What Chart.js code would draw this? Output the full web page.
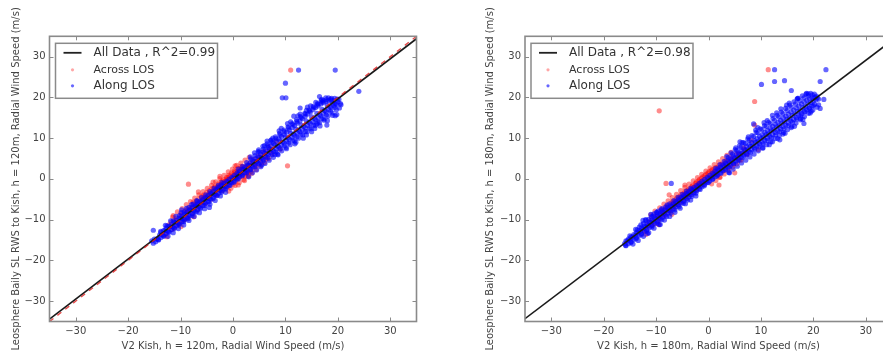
<!DOCTYPE html>
<html>
<head>
<meta charset="utf-8">
<script src="https://cdn.jsdelivr.net/npm/chart.js@4/dist/chart.umd.min.js"></script>
<style>
html,body{margin:0;padding:0;background:#fff;overflow:hidden;width:883px;height:354px;}
.wrap{position:absolute;top:0;}
</style>
</head>
<body>
<div class="wrap" style="left:0px;width:441px;height:354px;"><canvas id="c1" width="441" height="354"></canvas></div>
<div class="wrap" style="left:441px;width:460px;height:354px;"><canvas id="c2" width="460" height="354"></canvas></div>
<script>
// ---------- data ----------
const axisTicks = [-30, -20, -10, 0, 10, 20, 30];
const axisMin = -35, axisMax = 35;

const xLabel120 = 'V2 Kish, h = 120m, Radial Wind Speed (m/s)';
const yLabel120 = 'Leosphere Baily SL RWS to Kish, h = 120m, Radial Wind Speed (m/s)';
const xLabel180 = 'V2 Kish, h = 180m, Radial Wind Speed (m/s)';
const yLabel180 = 'Leosphere Baily SL RWS to Kish, h = 180m, Radial Wind Speed (m/s)';

const legendAll120 = 'All Data , R^2=0.99';
const legendAll180 = 'All Data , R^2=0.98';
const legendAcross = 'Across LOS';
const legendAlong = 'Along LOS';

// fitted "All Data" lines (x, y endpoints)
const fitLine120 = [[-35, -34.4], [35, 34.4]];
const oneToOne120 = [[-35, -35], [35, 35]];
const fitLine180 = [[-35, -34.3], [35, 34.0]];

// h = 120 m, Along LOS (blue)
const along120 = [
[-15.5,-15.2],[-15,-14.8],[-14.5,-14.7],[-14,-13.8],[-13.5,-13.7],[-13,-12.7],[-12.5,-12.8],[-12,-11.7],[-11.5,-11.8],[-11,-10.7],[-10.5,-10.9],[-10,-9.7],[-9.5,-9.8],[-9,-8.6],[-8.5,-8.9],[-8,-7.7],[-7.5,-7.8],[-7,-6.6],[-6.5,-6.8],[-6,-5.7],[-5.5,-5.8],[-5,-4.7],[-4.5,-4.8],[-4,-3.7],[-3.5,-3.8],[-3,-2.7],[-2.5,-2.8],[-2,-1.7],[-1.5,-1.8],[-1,-0.7],[-0.5,-0.8],[0,0.2],[0.5,0.3],[1,1.2],[1.5,1.3],[2,2.3],[2.5,2.3],[3,3.3],[3.5,3.3],[4,4.3],[4.5,4.3],[5,5.3],[5.5,5.2],[6,6.3],[6.5,6.2],[7,7.3],[7.5,7.2],[8,8.3],[8.5,8.1],[9,9.3],[9.5,9.1],[10,10.3],[10.5,10.1],[11,11.2],[11.5,11.0],[12,12.2],[12.5,12.0],[13,13.2],[13.5,12.9],[14,14.2],[14.5,13.9],[15,15.2],[15.5,14.9],[16,16.1],[16.5,15.8],[17,17.1],[17.5,16.8],[18,18.0],[18.5,17.7],[19,18.6],[19.5,18.4],[20,18.9],
[-13.8,-12.9],[-12.6,-11.5],[-11.4,-10.3],[-10.2,-9.0],[-9.3,-8.1],[-8.4,-7.0],[-7.6,-6.2],[-6.8,-5.5],[-6.0,-4.6],[-5.2,-3.9],[-4.4,-3.1],[-3.6,-2.3],[-2.8,-1.6],[-2.1,-0.9],[1.0,2.4],[1.8,3.1],[2.6,4.0],[3.4,4.9],[4.2,5.7],[5.0,6.6],[5.8,7.3],[6.6,8.2],[7.4,9.0],[8.2,9.9],[9.0,10.8],[9.8,11.6],[10.6,12.5],[11.4,13.3],[12.2,14.1],[13.0,15.0],[13.8,15.9],[14.6,16.7],[15.4,17.5],[16.2,18.3],[17.0,18.9],[17.8,19.4],[18.6,19.6],[19.4,19.8],[20.2,19.5],
[-15.2,-15.8],[-14.2,-15.0],[-13.2,-14.1],[-12.2,-13.1],[-11.2,-12.2],[-10.3,-11.3],[-9.4,-10.5],[-8.6,-9.8],[-7.8,-9.0],[-7.0,-8.1],[-6.2,-7.3],[-5.4,-6.5],[-4.6,-5.7],[-3.8,-4.9],[-3.0,-4.1],[-2.2,-3.3],[-1.4,-2.5],[-0.6,-1.6],[0.2,-0.8],[1.0,0.0],[1.8,0.8],[2.6,1.5],[3.4,2.3],[4.2,3.0],[5.0,3.7],[5.8,4.5],[6.6,5.2],[7.4,5.9],[8.2,6.6],[9.0,7.4],[9.8,8.1],[10.6,8.8],[11.4,9.5],[12.2,10.3],[13.0,11.0],[13.8,11.7],[14.6,12.5],[15.4,13.2],[16.2,14.0],[17.0,14.8],[17.8,15.7],[18.6,16.6],[19.4,17.5],
[-13.75,-13.1],[-13.25,-12.7],[-12.75,-12.1],[-12.25,-11.6],[-11.75,-11.2],[-11.25,-10.6],[-10.75,-10.2],[-10.25,-9.6],[-9.75,-9.2],[-9.25,-8.6],[-8.75,-8.1],[-8.25,-7.6],[-7.75,-7.1],[-7.25,-6.6],[-6.75,-6.1],[-6.25,-5.6],[-5.75,-5.1],[-5.25,-4.6],[-4.75,-4.1],[-4.25,-3.6],[-3.75,-3.1],[-3.25,-2.6],[-2.75,-2.1],[-2.25,-1.6],[-1.75,-1.1],[-1.25,-0.6],[-0.75,-0.1],[-0.25,0.4],[0.25,0.9],[0.75,1.4],[1.25,1.9],[1.75,2.4],[2.25,2.9],[2.75,3.4],[3.25,3.9],[3.75,4.5],[4.25,5.0],[4.75,5.5],[5.25,6.1],[5.75,6.6],[6.25,7.1],[6.75,7.7],[7.25,8.2],[7.75,8.7],[8.25,9.3],[8.75,9.8],[9.25,10.4],[9.75,10.9],[10.25,11.5],[10.75,12.0],[11.25,12.6],[11.75,13.1],[12.25,13.7],[12.75,14.2],[13.25,14.8],[13.75,15.3],[14.25,15.9],[14.75,16.4],[15.25,17.0],[15.75,17.5],[16.25,17.9],[16.75,18.4],[17.25,18.7],[17.75,19.0],[18.25,19.2],[18.75,19.3],[19.25,19.2],
[-14.75,-15.4],[-14.25,-14.9],[-13.75,-14.4],[-13.25,-13.9],[-12.75,-13.4],[-12.25,-12.9],[-11.75,-12.4],[-11.25,-11.9],[-10.75,-11.5],[-10.25,-11.0],[-9.75,-10.5],[-9.25,-10.0],[-8.75,-9.5],[-8.25,-9.0],[-7.75,-8.5],[-7.25,-8.0],[-6.75,-7.5],[-6.25,-7.0],[-5.75,-6.5],[-5.25,-6.0],[-4.75,-5.5],[-4.25,-5.0],[-3.75,-4.5],[-3.25,-4.0],[-2.75,-3.5],[-2.25,-3.0],[-1.75,-2.5],[-1.25,-2.0],[-0.75,-1.5],[-0.25,-1.0],[0.25,-0.5],[0.75,0.0],[1.25,0.5],[1.75,1.0],[2.25,1.5],[2.75,1.9],[3.25,2.4],[3.75,2.9],[4.25,3.4],[4.75,3.9],[5.25,4.4],[5.75,4.9],[6.25,5.4],[6.75,5.9],[7.25,6.4],[7.75,6.8],[8.25,7.3],[8.75,7.8],[9.25,8.3],[9.75,8.8],[10.25,9.2],[10.75,9.7],[11.25,10.2],[11.75,10.7],[12.25,11.2],[12.75,11.6],[13.25,12.1],[13.75,12.6],[14.25,13.1],[14.75,13.6],[15.25,14.0],[15.75,14.5],[16.25,15.0],[16.75,15.5],[17.25,16.0],[17.75,16.5],[18.25,17.0],[18.75,17.5],[19.25,18.0],[19.75,18.3],
[3.3,5.4],[4.1,6.4],[4.9,7.1],[5.7,8.0],[6.5,8.6],[7.3,9.6],[8.1,10.3],[8.9,11.2],[9.7,12.0],[10.5,12.8],[11.3,13.6],[12.1,14.5],[12.9,15.3],[13.7,16.1],[14.5,16.9],[15.3,17.8],[16.1,18.5],[16.9,19.5],[17.7,19.9],
[3.7,1.5],[4.5,2.2],[5.3,3.0],[6.1,3.8],[6.9,4.6],[7.7,5.3],[8.5,6.1],[9.3,6.9],[10.1,7.7],[10.9,8.4],[11.7,9.3],[12.5,10.0],[13.3,10.8],[14.1,11.6],[14.9,12.3],[15.7,13.1],[16.5,13.8],[17.3,14.7],[18.1,15.4],[18.9,16.2],[19.7,17.0],
[-12.9,-11.4],[-11.9,-10.3],[-10.9,-9.2],[-9.9,-8.3],[-8.9,-7.2],[-7.9,-6.3],[-6.9,-5.3],[-12.4,-14.1],[-11.4,-13.2],[-10.4,-12.2],[-9.4,-11.3],[-8.4,-10.2],[-7.4,-9.2],[-6.4,-8.3],[-5.4,-7.3],[-4.4,-6.2],[-3.4,-5.3],[-2.4,-4.2],[-1.4,-3.3],
[9.2,12.4],[11.0,14.0],[12.8,15.9],[14.8,17.9],[16.8,19.2],[10.2,7.4],[12.0,9.0],[14.0,10.8],[15.6,12.4],[17.4,14.4],[19.0,15.6],[18.8,19.8],[19.9,19.6],[20.3,17.4],[17.9,13.2],[8.6,5.9],[7.2,9.4],[6.0,8.2],[4.8,6.7],[11.6,15.4],
[8.8,11.8],[10.4,13.6],[12.4,15.5],[14.2,17.6],[15.8,18.8],[17.2,19.3],[18.2,19.9],[11.8,8.6],[13.4,10.0],[15.0,11.6],[16.6,13.0],[18.0,14.3],[19.8,15.8],[20.6,18.2],[16.0,13.5],[19.5,15.5],[20.5,18.5],[12.5,26.7],[19.5,26.7],[10.0,23.5],[9.4,19.9],[10.1,19.9],[24.0,21.5],[-15.2,-12.6],[8.0,6.0],[5.5,3.4],[-4.5,-7.0],[3.0,0.5],[-9.8,-7.6],[6.5,9.3],[12.8,17.4],[16.5,20.2],[14.0,16.8],[7.6,10.0]
];

// h = 120 m, Across LOS (red)
const across120 = [
[-13.0,-13.6],[-12.2,-11.3],[-11.6,-12.4],[-11.0,-10.1],[-10.5,-11.2],[-10.0,-8.9],[-9.5,-10.3],[-9.0,-7.8],[-8.6,-9.6],[-8.5,-1.3],[-8.2,-6.9],[-7.8,-8.5],[-7.4,-6.1],[-7.0,-5.4],[-6.8,-7.7],[-6.5,-4.9],[-6.2,-6.5],[-6.0,-4.3],[-5.6,-3.9],[-5.3,-6.1],[-5.0,-3.3],[-4.8,-4.6],[-4.5,-2.9],[-4.2,-5.0],[-4.0,-2.4],[-3.7,-3.0],[-3.4,-1.8],[-3.1,-4.0],[-2.8,-1.2],[-2.6,-2.3],[-2.3,-0.8],[-2.0,-2.9],[-1.8,-0.2],[-1.5,-1.1],[-1.2,0.4],[-1.0,-1.9],[-0.8,0.9],[-0.5,-0.2],[-0.3,1.4],[0.0,-1.3],[0.1,0.8],[0.3,2.0],[0.5,-0.5],[0.7,1.3],[0.9,2.6],[1.1,0.2],[1.3,1.9],[1.5,3.1],[1.7,0.6],[1.9,2.4],[2.2,-0.4],[2.4,1.4],[2.6,3.4],[2.9,2.0],[3.2,4.0],[3.5,2.5],[3.9,4.8],[4.3,3.1],[4.8,5.6],[5.3,4.0],[5.8,6.7],[6.3,4.9],[6.9,8.0],[7.5,6.1],[8.2,9.2],[9.0,7.3],[10.4,3.2],[11.0,26.7],[-0.8,-3.0],[1.0,-1.5],[-6.6,-3.2],[-2.5,0.6],[0.4,3.2],[3.0,0.8],[-11.5,-9.4],[-3.8,-0.8],
[-11.8,-10.6],[-11.2,-12.0],[-10.8,-9.6],[-10.2,-10.9],[-9.8,-8.5],[-9.2,-9.9],[-8.8,-7.5],[-8.0,-7.3],[-7.6,-5.7],[-7.2,-7.0],[-6.4,-5.8],[-5.8,-5.2],[-5.5,-4.4],[-5.1,-4.9],[-4.6,-3.6],[-4.4,-4.3],[-3.9,-3.3],[-3.6,-2.1],[-3.3,-3.6],[-3.0,-2.2],[-2.7,-1.9],[-2.4,-1.4],[-2.1,-0.5],[-1.9,-2.3],[-1.6,-0.7],[-1.3,-0.1],[-1.1,-1.4],[-0.9,0.3],[-0.6,0.6],[-0.4,-0.8],[-0.2,0.2],[0.0,1.2],[0.2,0.1],[0.4,1.6],[0.6,0.6],[0.8,2.0],[1.0,0.9],[1.2,2.4],[1.4,1.2],[1.6,2.7],[1.8,1.6],[2.0,3.0],[2.3,0.7],[2.5,2.9],[2.8,1.5],[3.1,3.3],[3.4,1.8],[3.7,3.9],[4.1,3.6],[4.5,4.3],[5.0,4.8],[5.5,5.6],[6.0,5.6],[6.6,6.8],[7.2,7.0],
[-11.4,-9.0],[-10.6,-8.1],[-9.7,-7.3],[-8.9,-6.3],[-8.1,-5.6],[-7.3,-4.7],[-6.5,-3.9],[-5.7,-3.1],[-4.9,-2.3],[-4.1,-1.6],[-3.3,-0.7],[-2.5,0.1],[-1.7,0.9],[-0.9,1.7],[-0.1,2.4],[0.7,3.3],[1.5,3.9],[2.3,4.6],[3.1,5.3],
[-12.6,-14.2],[-9.9,-11.7],[-7.5,-9.3],[-0.4,-2.3],[0.4,-1.6],[1.2,-0.9],[2.0,-0.2],[2.8,0.6],[3.6,1.4],[4.4,2.3],[5.2,3.2],[6.0,4.0],[6.8,5.0],
[-8.9,-8.2],[-8.4,-7.7],[-7.9,-6.9],[-7.1,-6.4],[-6.7,-5.8],[-6.1,-5.3],[-5.7,-4.8],[-5.2,-4.2],[-4.7,-4.0],[-4.3,-3.4],[-3.8,-2.8],[-3.2,-2.5],[-2.9,-1.8],[-2.2,-1.3],[-1.7,-1.0],[-1.2,-0.3]
];

// h = 180 m, Along LOS (blue)
const along180 = [
[-16,-15.9],[-15.5,-15.2],[-15,-14.9],[-14.5,-14.3],[-14,-13.9],[-13.5,-13.3],[-13,-12.9],[-12.5,-12.3],[-12,-11.8],[-11.5,-11.4],[-11,-10.8],[-10.5,-10.4],[-10,-9.8],[-9.5,-9.4],[-9,-8.8],[-8.5,-8.4],[-8,-7.8],[-7.5,-7.4],[-7,-6.8],[-6.5,-6.4],[-6,-5.9],[-5.5,-5.4],[-5,-4.9],[-4.5,-4.4],[-4,-3.9],[-3.5,-3.4],[-3,-2.9],[-2.5,-2.5],[-2,-1.9],[-1.5,-1.5],[-1,-0.9],[-0.5,-0.6],[0,0.1],[0.5,0.4],[1,1.1],[1.5,1.4],[2,2.1],[2.5,2.4],[3,3.1],[3.5,3.4],[4,4.1],[4.5,4.4],[5,5.1],[5.5,5.3],[6,6.0],[6.5,6.3],[7,7.0],[7.5,7.2],[8,8.0],[8.5,8.2],[9,9.0],[9.5,9.2],[10,9.9],[10.5,10.2],[11,10.9],[11.5,11.1],[12,11.8],[12.5,12.1],[13,12.8],[13.5,13.0],[14,13.7],[14.5,14.0],[15,14.7],[15.5,14.9],[16,15.6],[16.5,15.9],[17,16.6],[17.5,16.8],[18,17.5],[18.5,17.8],[19,18.4],[19.5,18.7],[20,19.2],[20.5,19.4],[21,19.6],
[-15.0,-14.0],[-13.6,-12.5],[-12.4,-11.0],[-11.4,-9.9],[-10.6,-9.1],[-9.8,-8.3],[-9.0,-7.6],[-8.2,-6.9],[-7.4,-6.1],[-6.6,-5.3],[-5.8,-4.5],[-5.0,-3.8],[-4.2,-3.0],[-3.4,-2.3],[1.4,2.6],[2.2,3.5],[3.0,4.3],[3.8,5.2],[4.6,6.1],[5.4,7.0],[6.2,7.8],[7.0,8.7],[7.8,9.5],[8.6,10.4],[9.4,11.3],[10.2,12.1],[11.0,12.9],[11.8,13.6],[12.6,14.4],[13.4,15.2],[14.2,16.0],[15.0,16.8],[15.8,17.6],[16.6,18.4],[17.4,19.2],[18.2,19.9],[19.0,20.4],[19.8,20.6],[20.6,20.3],
[-15.8,-16.3],[-14.8,-15.6],[-13.8,-14.7],[-12.8,-13.7],[-11.8,-12.8],[-10.8,-11.8],[-9.8,-10.9],[-8.9,-10.0],[-8.0,-9.2],[-7.2,-8.4],[-6.4,-7.6],[-5.6,-6.8],[-4.8,-6.0],[-4.0,-5.2],[-3.2,-4.3],[-2.4,-3.5],[-1.6,-2.6],[-0.8,-1.7],[0.0,-0.9],[0.8,-0.1],[1.6,0.7],[2.4,1.4],[3.2,2.2],[4.0,2.9],[4.8,3.7],[5.6,4.4],[6.4,5.1],[7.2,5.8],[8.0,6.5],[8.8,7.2],[9.6,7.9],[10.4,8.6],[11.2,9.4],[12.0,10.1],[12.8,10.8],[13.6,11.6],[14.4,12.3],[15.2,13.1],[16.0,13.9],[16.8,14.7],[17.6,15.6],[18.4,16.5],[19.2,17.3],[20.0,18.0],
[-15.75,-15.2],[-15.25,-14.7],[-14.75,-14.2],[-14.25,-13.7],[-13.75,-13.1],[-13.25,-12.6],[-12.75,-12.1],[-12.25,-11.6],[-11.75,-11.1],[-11.25,-10.6],[-10.75,-10.1],[-10.25,-9.6],[-9.75,-9.1],[-9.25,-8.6],[-8.75,-8.1],[-8.25,-7.6],[-7.75,-7.1],[-7.25,-6.6],[-6.75,-6.1],[-6.25,-5.6],[-5.75,-5.1],[-5.25,-4.6],[-4.75,-4.1],[-4.25,-3.6],[-3.75,-3.1],[-3.25,-2.6],[-2.75,-2.1],[-2.25,-1.6],[-1.75,-1.1],[-1.25,-0.6],[-0.75,-0.1],[-0.25,0.4],[0.25,0.9],[0.75,1.4],[1.25,1.9],[1.75,2.4],[2.25,2.9],[2.75,3.4],[3.25,3.9],[3.75,4.4],[4.25,4.9],[4.75,5.4],[5.25,5.9],[5.75,6.4],[6.25,6.9],[6.75,7.4],[7.25,7.9],[7.75,8.4],[8.25,8.9],[8.75,9.4],[9.25,9.9],[9.75,10.4],[10.25,10.9],[10.75,11.4],[11.25,11.9],[11.75,12.4],[12.25,12.9],[12.75,13.4],[13.25,13.9],[13.75,14.4],[14.25,14.9],[14.75,15.4],[15.25,15.9],[15.75,16.4],[16.25,16.9],[16.75,17.4],[17.25,17.9],[17.75,18.4],[18.25,18.9],[18.75,19.3],[19.25,19.7],[19.75,19.9],[20.25,20.0],[20.75,19.9],
[-15.75,-16.4],[-15.25,-15.9],[-14.75,-15.4],[-14.25,-14.9],[-13.75,-14.4],[-13.25,-13.9],[-12.75,-13.4],[-12.25,-12.9],[-11.75,-12.4],[-11.25,-11.9],[-10.75,-11.4],[-10.25,-10.9],[-9.75,-10.4],[-9.25,-9.9],[-8.75,-9.4],[-8.25,-8.9],[-7.75,-8.4],[-7.25,-7.9],[-6.75,-7.4],[-6.25,-6.9],[-5.75,-6.4],[-5.25,-5.9],[-4.75,-5.4],[-4.25,-4.9],[-3.75,-4.4],[-3.25,-3.9],[-2.75,-3.4],[-2.25,-2.9],[-1.75,-2.4],[-1.25,-1.9],[-0.75,-1.4],[-0.25,-0.9],[0.25,-0.5],[0.75,0.0],[1.25,0.5],[1.75,1.0],[2.25,1.5],[2.75,2.0],[3.25,2.4],[3.75,2.9],[4.25,3.4],[4.75,3.9],[5.25,4.3],[5.75,4.8],[6.25,5.3],[6.75,5.8],[7.25,6.2],[7.75,6.7],[8.25,7.2],[8.75,7.6],[9.25,8.1],[9.75,8.6],[10.25,9.0],[10.75,9.5],[11.25,10.0],[11.75,10.4],[12.25,10.9],[12.75,11.4],[13.25,11.8],[13.75,12.3],[14.25,12.8],[14.75,13.2],[15.25,13.7],[15.75,14.2],[16.25,14.6],[16.75,15.1],[17.25,15.6],[17.75,16.0],[18.25,16.5],[18.75,17.0],[19.25,17.4],[19.75,17.9],[20.25,18.3],
[3.5,5.5],[4.3,6.4],[5.1,7.2],[5.9,8.1],[6.7,8.9],[7.5,9.8],[8.3,10.6],[9.1,11.4],[9.9,12.3],[10.7,13.1],[11.5,13.9],[12.3,14.8],[13.1,15.6],[13.9,16.4],[14.7,17.3],[15.5,18.1],[16.3,18.9],[17.1,19.8],[17.9,20.4],[18.7,21.0],[19.5,21.0],
[3.9,1.6],[4.7,2.4],[5.5,3.1],[6.3,3.9],[7.1,4.6],[7.9,5.4],[8.7,6.1],[9.5,6.9],[10.3,7.6],[11.1,8.4],[11.9,9.1],[12.7,9.9],[13.5,10.6],[14.3,11.4],[15.1,12.1],[15.9,12.9],[16.7,13.7],[17.5,14.5],[18.3,15.3],[19.1,16.1],[19.9,16.9],[20.7,17.6],
[-13.9,-12.4],[-12.9,-11.3],[-11.9,-10.2],[-10.9,-9.3],[-9.9,-8.2],[-8.9,-7.3],[-7.9,-6.4],[-14.4,-16.0],[-13.4,-15.1],[-12.4,-14.1],[-11.4,-13.2],[-10.4,-12.1],[-9.4,-11.2],[-8.4,-10.1],[-7.4,-9.2],[-6.4,-8.2],[-5.4,-7.2],[-4.4,-6.1],[-3.4,-5.2],[-2.4,-4.2],
[9.4,12.6],[11.2,14.3],[13.0,16.2],[14.9,18.1],[16.9,19.6],[10.4,7.6],[12.2,9.1],[14.2,11.0],[15.8,12.6],[17.6,14.8],[19.4,16.2],[19.0,20.9],[20.2,20.8],[21.0,18.2],[18.2,13.6],[-12.0,-10.0],[-10.4,-8.6],[-13.2,-11.8],[-9.2,-11.2],[-11.6,-13.4],[6.4,8.9],[7.6,10.3],[5.2,7.6],
[9.0,12.0],[10.6,13.8],[12.2,15.6],[13.8,17.2],[15.4,18.6],[17.0,19.8],[18.6,20.8],[11.6,8.4],[13.2,9.9],[14.6,11.2],[16.4,12.9],[18.0,14.6],[19.6,16.6],[21.3,17.3],[22.0,19.5],[13.6,9.6],[12.6,26.8],[22.4,26.8],[14.5,24.1],[12.6,23.9],[10.1,23.2],[15.8,21.7],[21.3,23.9],[8.6,13.5],[-12.5,-10.2],[-11.0,-8.7],[-9.6,-7.9],[6.0,9.1],[4.0,1.5],[-7.1,-1.1]
];

// h = 180 m, Across LOS (red)
const across180 = [
[-12.2,-12.8],[-11.5,-10.6],[-10.8,-11.4],[-10.2,-9.2],[-9.6,-10.2],[-9.4,16.7],[-9.0,-8.0],[-8.5,-9.1],[-8.1,-1.1],[-8.0,-6.8],[-7.5,-7.9],[-7.0,-5.8],[-6.6,-7.2],[-6.2,-5.0],[-5.8,-6.3],[-5.4,-4.2],[-5.0,-5.6],[-4.6,-3.4],[-4.2,-4.7],[-3.9,-2.7],[-3.5,-3.9],[-3.2,-1.9],[-2.8,-3.2],[-2.5,-1.1],[-2.2,-2.6],[-1.9,-0.5],[-1.6,-1.8],[-1.3,0.2],[-1.0,-1.3],[-0.7,0.8],[-0.4,-0.5],[-0.1,1.4],[0.2,0.2],[0.5,2.0],[0.8,0.6],[1.1,2.4],[1.4,1.2],[1.8,2.9],[2.1,0.4],[2.5,3.6],[2.9,2.0],[3.3,4.4],[3.8,2.7],[4.3,5.3],[4.8,3.6],[5.4,6.3],[6.0,4.7],[6.7,7.6],[7.4,6.0],[8.2,9.4],[8.8,13.2],[8.8,19.0],[11.4,26.8],[2.0,-1.5],[-4.5,-1.5],[5.0,1.5],[-7.5,-3.9],[9.5,7.2],
[-11.6,-11.6],[-10.9,-10.0],[-10.4,-11.0],[-9.8,-8.8],[-9.2,-9.6],[-8.7,-7.5],[-8.3,-8.5],[-7.7,-6.4],[-7.3,-7.5],[-6.8,-5.5],[-6.4,-6.4],[-6.0,-4.6],[-5.6,-5.4],[-5.2,-3.8],[-4.8,-4.5],[-4.4,-3.0],[-4.0,-3.8],[-3.7,-2.4],[-3.3,-3.0],[-3.0,-1.6],[-2.7,-2.3],[-2.3,-0.8],[-2.0,-1.5],[-1.7,-0.1],[-1.4,-0.9],[-1.1,0.5],[-0.8,-0.2],[-0.5,1.1],[-0.2,0.5],[0.1,1.7],[0.4,1.0],[0.7,2.3],[1.0,1.5],[1.3,2.8],[1.6,2.0],[2.0,3.3],[2.3,2.4],[2.7,3.8],[3.1,3.1],[3.5,4.5],[4.0,3.8],[4.5,4.9],[5.1,5.1],[5.7,6.0],[6.3,6.3],[7.0,7.2],
[-11.0,-8.8],[-10.2,-7.9],[-9.3,-7.1],[-8.5,-6.2],[-7.7,-5.4],[-6.9,-4.6],[-6.1,-3.8],[-5.3,-2.9],[-4.5,-2.1],[-3.7,-1.3],[-2.9,-0.5],[-2.1,0.3],[-1.3,1.1],[-0.5,1.9],[0.3,2.7],[1.1,3.5],[1.9,4.2],[2.7,5.0],[3.5,5.8],[4.3,6.5],
[-11.9,-13.6],[-9.5,-11.2],[-7.0,-8.7],[0.6,-1.2],[1.4,-0.4],[2.2,0.4],[3.0,1.2],[3.8,2.0],[4.6,2.9],[5.4,3.7],[6.2,4.6],
[-8.9,-8.3],[-8.4,-7.6],[-7.9,-7.0],[-7.2,-6.5],[-6.7,-5.9],[-6.2,-5.6],[-5.7,-4.8],[-5.2,-4.5],[-4.7,-3.9],[-4.3,-3.6],[-3.8,-3.0],[-3.4,-2.6],[-2.9,-2.1],[-2.4,-1.7],[-1.9,-1.2],[-1.4,-0.6]
];

// ---------- drawing ----------
const FONT = "'DejaVu Sans', 'Liberation Sans', sans-serif";
const TEXT = '#444';
const FRAME = '#8a8a8a';

function pts(arr) { return arr.map(p => ({x: p[0], y: p[1]})); }

const framePlugin = {
  id: 'frameTicks',
  afterDatasetsDraw(chart, args, opts) {
    const ctx = chart.ctx, a = chart.chartArea;
    const xs = chart.scales.x, ys = chart.scales.y;
    ctx.save();
    ctx.strokeStyle = FRAME;
    ctx.lineWidth = 1;
    xs.ticks.forEach(t => {
      const px = Math.round(xs.getPixelForValue(t.value)) + 0.5;
      ctx.beginPath();
      ctx.moveTo(px, a.bottom); ctx.lineTo(px, a.bottom - 4);
      ctx.moveTo(px, a.top); ctx.lineTo(px, a.top + 4);
      ctx.stroke();
    });
    ys.ticks.forEach(t => {
      const py = Math.round(ys.getPixelForValue(t.value)) + 0.5;
      ctx.beginPath();
      ctx.moveTo(a.left, py); ctx.lineTo(a.left + 4, py);
      ctx.moveTo(a.right, py); ctx.lineTo(a.right - 4, py);
      ctx.stroke();
    });
    ctx.lineWidth = 1.6;
    ctx.strokeRect(a.left, a.top, a.right - a.left, a.bottom - a.top);

    // legend box
    const bx = a.left + 6, by = a.top + 7, bw = 162, bh = 55;
    ctx.fillStyle = '#fff';
    ctx.fillRect(bx, by, bw, bh);
    ctx.lineWidth = 1.5;
    ctx.strokeStyle = FRAME;
    ctx.strokeRect(bx, by, bw, bh);
    ctx.strokeStyle = '#222';
    ctx.lineWidth = 1.8;
    ctx.beginPath();
    ctx.moveTo(bx + 8, by + 9.5); ctx.lineTo(bx + 26, by + 9.5);
    ctx.stroke();
    ctx.fillStyle = 'rgba(255,0,0,0.35)';
    ctx.beginPath(); ctx.arc(bx + 17, by + 26.5, 1.6, 0, Math.PI * 2); ctx.fill();
    ctx.fillStyle = 'rgba(0,0,255,0.6)';
    ctx.beginPath(); ctx.arc(bx + 17, by + 42.5, 1.6, 0, Math.PI * 2); ctx.fill();
    ctx.fillStyle = '#333';
    ctx.textBaseline = 'middle';
    ctx.textAlign = 'left';
    ctx.font = '12px ' + FONT;
    ctx.fillText(opts.allLabel, bx + 38, by + 9.5);
    ctx.font = '11px ' + FONT;
    ctx.fillText(legendAcross, bx + 38, by + 26.5);
    ctx.font = '12px ' + FONT;
    ctx.fillText(legendAlong, bx + 38, by + 42.5);
    ctx.restore();
  }
};

function makeChart(id, cfg) {
  const datasets = [
    {label: legendAcross, data: pts(cfg.across), backgroundColor: 'rgba(255,0,0,0.45)', borderWidth: 0, pointRadius: 2.6, order: 3},
    {label: legendAlong, data: pts(cfg.along), backgroundColor: 'rgba(0,0,255,0.6)', borderWidth: 0, pointRadius: 2.6, order: 2},
    {label: cfg.allLabel, data: pts(cfg.fit), showLine: true, borderColor: '#1a1a1a', borderWidth: 1.6, pointRadius: 0, order: 1}
  ];
  if (cfg.oneToOne) {
    datasets.push({label: '1:1', data: pts(cfg.oneToOne), showLine: true, borderColor: 'rgba(220,30,30,0.8)', borderWidth: 1.4, borderDash: [5, 5], pointRadius: 0, order: 0});
  }
  return new Chart(document.getElementById(id), {
    type: 'scatter',
    data: {datasets},
    options: {
      responsive: false,
      animation: false,
      devicePixelRatio: 1,
      layout: {padding: {left: 0, right: cfg.padRight, top: 36.3, bottom: 0}},
      plugins: {legend: {display: false}, tooltip: {enabled: false}, frameTicks: {allLabel: cfg.allLabel}},
      scales: {
        x: {
          type: 'linear', min: axisMin, max: axisMax,
          afterBuildTicks: s => { s.ticks = axisTicks.map(v => ({value: v})); },
          afterFit: s => { s.height = 32.5; },
          grid: {display: false, drawTicks: false},
          border: {display: false},
          ticks: {color: TEXT, font: {family: FONT, size: 10}, padding: 4, maxRotation: 0,
                  callback: v => (v < 0 ? '\u2212' + Math.abs(v) : String(v))},
          title: {display: true, text: cfg.xLabel, color: TEXT, font: {family: FONT, size: 10, lineHeight: 1.2}, padding: {top: 0, bottom: 2}}
        },
        y: {
          type: 'linear', min: axisMin, max: axisMax,
          afterBuildTicks: s => { s.ticks = axisTicks.map(v => ({value: v})); },
          afterFit: s => { s.width = cfg.yWidth; },
          grid: {display: false, drawTicks: false},
          border: {display: false},
          ticks: {color: TEXT, font: {family: FONT, size: 10}, padding: 4,
                  callback: v => (v < 0 ? '\u2212' + Math.abs(v) : String(v))},
          title: {display: true, text: cfg.yLabel, color: TEXT, font: {family: FONT, size: 10, lineHeight: 1.2}, padding: {top: cfg.yTitlePad, bottom: 0}}
        }
      }
    },
    plugins: [framePlugin]
  });
}

makeChart('c1', {
  across: across120, along: along120, fit: fitLine120, oneToOne: oneToOne120,
  allLabel: legendAll120, xLabel: xLabel120, yLabel: yLabel120,
  yWidth: 49.5, padRight: 24.5, yTitlePad: 10
});
makeChart('c2', {
  across: across180, along: along180, fit: fitLine180, oneToOne: null,
  allLabel: legendAll180, xLabel: xLabel180, yLabel: yLabel180,
  yWidth: 84, padRight: 9, yTitlePad: 43
});
</script>
</body>
</html>
